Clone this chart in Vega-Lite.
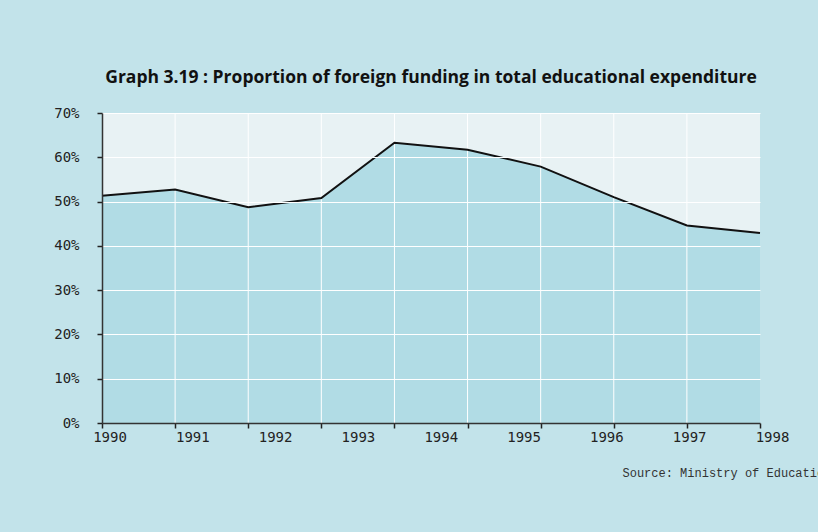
{
  "$schema": "https://vega.github.io/schema/vega-lite/v6.json",
  "autosize": "none",
  "width": 658,
  "height": 310,
  "padding": {"left": 102, "top": 113, "right": 58, "bottom": 109},
  "background": "#c2e3ea",
  "config": {"view": {"fill": "#e8f2f4", "stroke": null}},
  "title": {
    "text": "Graph 3.19 : Proportion of foreign funding in total educational expenditure",
    "font": "Open Sans",
    "fontSize": 17.5,
    "fontWeight": "bold",
    "color": "#111111",
    "anchor": "middle",
    "offset": 20
  },
  "datasets": {
    "share": [
      {"point": 1, "share": 51.3},
      {"point": 2, "share": 52.7},
      {"point": 3, "share": 48.7},
      {"point": 4, "share": 50.8},
      {"point": 5, "share": 63.3},
      {"point": 6, "share": 61.7},
      {"point": 7, "share": 57.9},
      {"point": 8, "share": 51.0},
      {"point": 9, "share": 44.6},
      {"point": 10, "share": 42.9}
    ],
    "years": [
      {"year": 1990}, {"year": 1991}, {"year": 1992}, {"year": 1993}, {"year": 1994},
      {"year": 1995}, {"year": 1996}, {"year": 1997}, {"year": 1998}
    ]
  },
  "layer": [
    {
      "layer": [
        {
          "data": {"name": "share"},
          "mark": {"type": "area", "color": "#b1dce5"},
          "encoding": {
            "x": {
              "field": "point",
              "type": "quantitative",
              "scale": {"domain": [1, 10], "nice": false, "zero": false},
              "axis": {
                "orient": "bottom",
                "values": [1, 2, 3, 4, 5, 6, 7, 8, 9, 10],
                "labels": false,
                "grid": false,
                "ticks": true,
                "tickSize": 5,
                "tickWidth": 1.5,
                "tickColor": "#222222",
                "domainColor": "#333333",
                "domainWidth": 1.5,
                "title": null,
                "zindex": 1
              }
            },
            "y": {
              "field": "share",
              "type": "quantitative",
              "scale": {"domain": [0, 70], "nice": false},
              "axis": {
                "values": [0, 10, 20, 30, 40, 50, 60, 70],
                "labelExpr": "datum.value + '%'",
                "labelFont": "DejaVu Sans Mono",
                "labelFontSize": 14,
                "labelColor": "#222222",
                "labelPadding": 18,
                "tickSize": 5,
                "tickWidth": 1.5,
                "tickColor": "#222222",
                "domainColor": "#333333",
                "domainWidth": 1.5,
                "grid": true,
                "gridColor": "#ffffff",
                "gridWidth": 1,
                "gridOpacity": 1,
                "title": null,
                "zindex": 1
              }
            }
          }
        },
        {
          "data": {"name": "share"},
          "transform": [{"filter": "datum.point > 1 && datum.point < 10"}],
          "mark": {"type": "rule", "color": "#ffffff", "strokeWidth": 1},
          "encoding": {
            "x": {"field": "point", "type": "quantitative"}
          }
        },
        {
          "data": {"name": "share"},
          "mark": {"type": "line", "color": "#111111", "strokeWidth": 2},
          "encoding": {
            "x": {"field": "point", "type": "quantitative"},
            "y": {"field": "share", "type": "quantitative"}
          }
        }
      ]
    },
    {
      "data": {"name": "years"},
      "mark": {"type": "rule", "opacity": 0},
      "encoding": {
        "x": {
          "field": "year",
          "type": "quantitative",
          "scale": {"domain": [1990, 1998], "range": [7.5, 670]},
          "axis": {
            "orient": "bottom",
            "values": [1990, 1991, 1992, 1993, 1994, 1995, 1996, 1997, 1998],
            "format": "d",
            "ticks": false,
            "domain": false,
            "grid": false,
            "labelFont": "DejaVu Sans Mono",
            "labelFontSize": 14,
            "labelColor": "#222222",
            "labelPadding": 7,
            "labelFlush": false,
            "labelOverlap": false,
            "title": "Source: Ministry of Education",
            "titleFont": "Liberation Mono",
            "titleFontWeight": "normal",
            "titleFontSize": 12,
            "titleColor": "#333333",
            "titleAlign": "left",
            "titleAnchor": "start",
            "titleBaseline": "alphabetic",
            "titleX": 520,
            "titleY": 53
          }
        }
      }
    }
  ],
  "resolve": {"scale": {"x": "independent"}, "axis": {"x": "independent"}}
}
